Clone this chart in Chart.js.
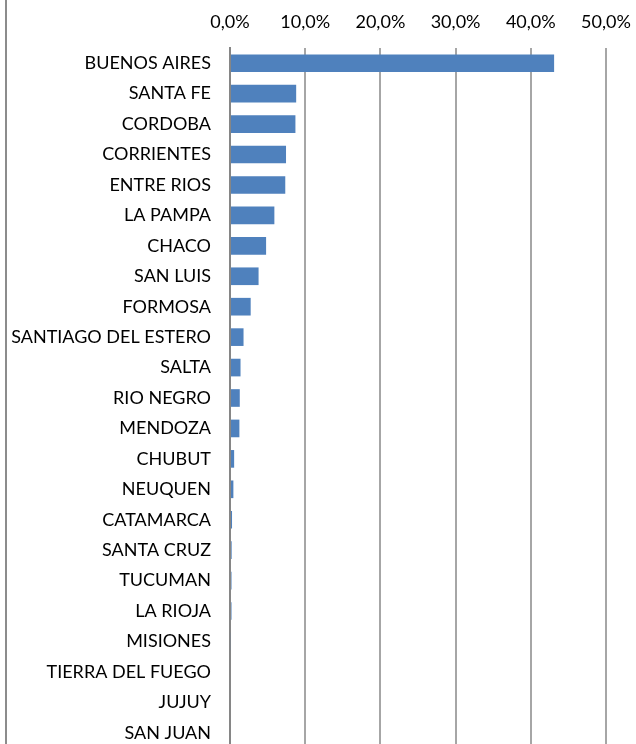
<!DOCTYPE html>
<html>
<head>
<meta charset="utf-8">
<script src="https://cdn.jsdelivr.net/npm/chart.js@4"></script>
<style>
  html, body { margin: 0; padding: 0; background: #fff; overflow: hidden; }
  #wrap { position: relative; width: 636px; height: 748px; }
  #edge { position: absolute; left: 5px; top: 0; width: 2px; height: 100%; background: #8c8c8c; }
</style>
</head>
<body>
<div id="wrap">
  <div id="edge"></div>
  <canvas id="chart" width="636" height="748"></canvas>
</div>
<script>
const provincias = [
  'BUENOS AIRES', 'SANTA FE', 'CORDOBA', 'CORRIENTES', 'ENTRE RIOS', 'LA PAMPA',
  'CHACO', 'SAN LUIS', 'FORMOSA', 'SANTIAGO DEL ESTERO', 'SALTA', 'RIO NEGRO',
  'MENDOZA', 'CHUBUT', 'NEUQUEN', 'CATAMARCA', 'SANTA CRUZ', 'TUCUMAN',
  'LA RIOJA', 'MISIONES', 'TIERRA DEL FUEGO', 'JUJUY', 'SAN JUAN'
];
const porcentajes = [
  43.1, 8.8, 8.7, 7.45, 7.35, 5.9,
  4.8, 3.8, 2.75, 1.8, 1.4, 1.3,
  1.25, 0.55, 0.45, 0.27, 0.22, 0.2,
  0.2, 0.12, 0, 0, 0
];
const ejeMax = 50;
const ejePaso = 10;

const fuente = { family: 'Lato', size: 18 };

// sin padding extra de las etiquetas, el area queda fija
function sinPadding(s) {
  s.paddingLeft = 0;
  s.paddingRight = 0;
  s.paddingTop = 0;
  s.paddingBottom = 0;
}

new Chart(document.getElementById('chart'), {
  type: 'bar',
  data: {
    labels: provincias,
    datasets: [{
      data: porcentajes,
      backgroundColor: '#4f81bd',
      borderWidth: 0,
      barPercentage: 0.58,
      categoryPercentage: 1
    }]
  },
  options: {
    indexAxis: 'y',
    responsive: false,
    animation: false,
    layout: { padding: { left: 0, right: 30, top: 0, bottom: 0 } },
    plugins: { legend: { display: false }, tooltip: { enabled: false } },
    scales: {
      x: {
        position: 'top',
        min: 0,
        max: ejeMax,
        ticks: {
          stepSize: ejePaso,
          color: '#000',
          font: fuente,
          padding: 15,
          callback: v => v.toFixed(1).replace('.', ',') + '%'
        },
        grid: { color: '#a6a6a6', lineWidth: 2, drawTicks: false },
        border: { display: false },
        afterFit: s => { s.height = 48; sinPadding(s); }
      },
      y: {
        ticks: { color: '#000', font: fuente, padding: 19, autoSkip: false },
        grid: { display: false, drawTicks: false },
        border: { color: '#868686', width: 2 },
        afterFit: s => { s.width = 230; sinPadding(s); }
      }
    }
  }
});
</script>
</body>
</html>
